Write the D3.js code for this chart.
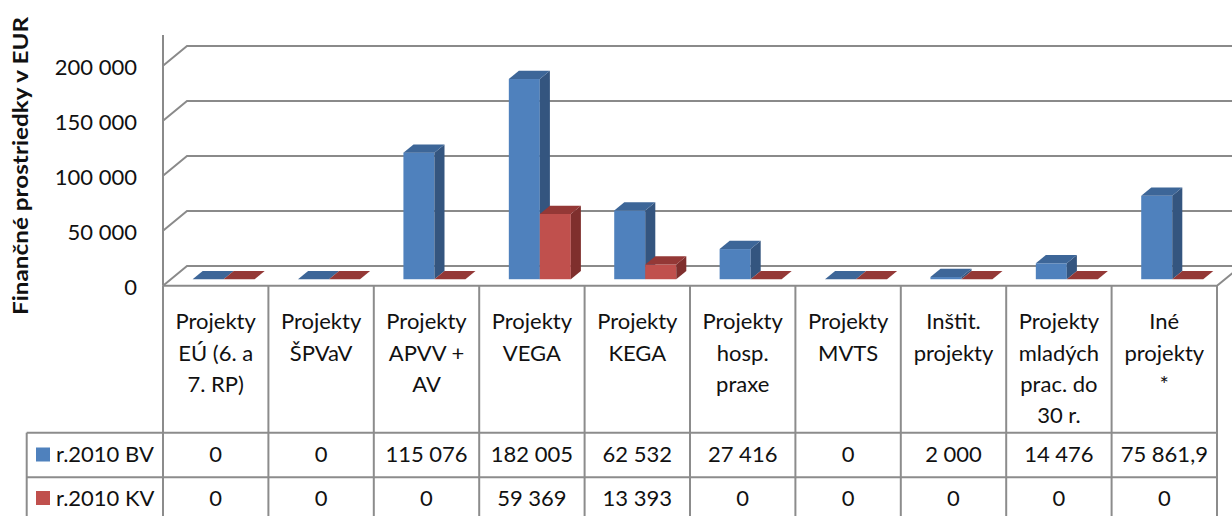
<!DOCTYPE html>
<html>
<head>
<meta charset="utf-8">
<script src="https://cdn.jsdelivr.net/npm/d3@7"></script>
<style>
  body { margin: 0; background: #fff; }
  svg { display: block; }
  text { font-family: Lato, "Open Sans", sans-serif; fill: #111; }
</style>
</head>
<body>
<div class="chart"></div>
<script>
var categories = ['EU', 'SPVaV', 'APVV', 'VEGA', 'KEGA', 'hosp', 'MVTS', 'Instit', 'mladych', 'Ine']
var categoryLines = [
  ['Projekty', 'EÚ (6. a', '7. RP)'],
  ['Projekty', 'ŠPVaV'],
  ['Projekty', 'APVV +', 'AV'],
  ['Projekty', 'VEGA'],
  ['Projekty', 'KEGA'],
  ['Projekty', 'hosp.', 'praxe'],
  ['Projekty', 'MVTS'],
  ['Inštit.', 'projekty'],
  ['Projekty', 'mladých', 'prac. do', '30 r.'],
  ['Iné', 'projekty', '*']
]
var seriesNames = ['r.2010 BV', 'r.2010 KV']
var valuesBV = [0, 0, 115076, 182005, 62532, 27416, 0, 2000, 14476, 75861.9]
var valuesKV = [0, 0, 0, 59369, 13393, 0, 0, 0, 0, 0]
var yTicks = [0, 50000, 100000, 150000, 200000]
var yTitle = 'Finančné prostriedky v EUR'

var width = 1232
var height = 516

// depth of the 3d floor
var DX = 24
var DY = 19.6

var colors = {
  blue: { front: '#4f81bd', side: '#34557f', top: '#3d6698' },
  red: { front: '#c0504d', side: '#7f2f2d', top: '#943836' }
}
var seriesColors = [colors.blue, colors.red]

var locale = d3.formatLocale({ decimal: ',', thousands: ' ', grouping: [3] })
var fmtInt = locale.format(',d')
var fmtDec = locale.format(',.1f')
function fmt(v) { return Number.isInteger(v) ? fmtInt(v) : fmtDec(v) }

var svg = d3.select('.chart')
  .append('svg')
  .attr('width', width)
  .attr('height', height)

var x = d3.scaleBand()
  .domain(categories)
  .range([163, 1217])

var xs = d3.scaleBand()
  .domain(seriesNames)
  .range([0, x.bandwidth()])
  .paddingOuter(0.7)

var y = d3.scaleLinear()
  .domain([0, 200000])
  .range([285.7, 65.7])

var gridColor = '#8a8a8a'

// back wall gridlines with the diagonal on the side wall
var grid = svg.append('g')
yTicks.forEach(function(v) {
  grid.append('path')
    .attr('d', 'M163,' + y(v) + 'L' + (163 + DX) + ',' + (y(v) - DY) + 'L' + width + ',' + (y(v) - DY))
    .attr('fill', 'none')
    .attr('stroke', gridColor)
    .attr('stroke-width', 2)
})

// vertical axis line
svg.append('line')
  .attr('x1', 163).attr('x2', 163)
  .attr('y1', 35).attr('y2', y(0))
  .attr('stroke', gridColor)
  .attr('stroke-width', 2)

// floor front edge + right side
svg.append('path')
  .attr('d', 'M163,' + y(0) + 'L1217,' + y(0) + 'L' + (1217 + DX) + ',' + (y(0) - DY))
  .attr('fill', 'none')
  .attr('stroke', gridColor)
  .attr('stroke-width', 2)

// bars
var F0 = 0.33
var F1 = 0.75
var bars = svg.append('g')
categories.forEach(function(c, i) {
  [valuesBV[i], valuesKV[i]].forEach(function(v, s) {
    var col = seriesColors[s]
    var bx = x(c) + xs(seriesNames[s]) + F0 * DX
    var w = xs.bandwidth()
    var yb = y(0) - F0 * DY
    var yt = y(v) - F0 * DY
    var dx = (F1 - F0) * DX
    var dy = (F1 - F0) * DY
    var g = bars.append('g')
    if (v > 0) {
      g.append('rect')
        .attr('x', bx).attr('y', yt)
        .attr('width', w).attr('height', yb - yt)
        .attr('fill', col.front)
      g.append('path')
        .attr('d', 'M' + (bx + w) + ',' + yt + 'L' + (bx + w + dx) + ',' + (yt - dy) +
          'L' + (bx + w + dx) + ',' + (yb - dy) + 'L' + (bx + w) + ',' + yb + 'Z')
        .attr('fill', col.side)
    }
    g.append('path')
      .attr('d', 'M' + bx + ',' + yt + 'L' + (bx + w) + ',' + yt +
        'L' + (bx + w + dx) + ',' + (yt - dy) + 'L' + (bx + dx) + ',' + (yt - dy) + 'Z')
      .attr('fill', col.top)
  })
})

// y axis labels
var yAxis = d3.axisLeft(y)
  .tickValues(yTicks)
  .tickSize(0)
  .tickPadding(26)
  .tickFormat(fmt)

svg.append('g')
  .attr('transform', 'translate(163,1.5)')
  .call(yAxis)
  .call(function(g) { g.select('.domain').remove() })
  .selectAll('text')
  .style('font-size', '22px')
  .style('font-family', 'Lato')
  .attr('fill', '#111')

// y title (stretched along its length like the source)
svg.append('text')
  .attr('transform', 'translate(28,166) rotate(-90)')
  .attr('text-anchor', 'middle')
  .attr('textLength', 298)
  .attr('lengthAdjust', 'spacingAndGlyphs')
  .style('font-size', '20px')
  .style('font-weight', 'bold')
  .text(yTitle)

// data table
var rowTop = 432.7
var rowMid = 477.3
var tableColor = '#8c8c8c'
var table = svg.append('g')

x.domain().concat(['end']).forEach(function(c) {
  var xx = c === 'end' ? x.range()[1] : x(c)
  table.append('line')
    .attr('x1', xx).attr('x2', xx)
    .attr('y1', y(0)).attr('y2', height)
    .attr('stroke', tableColor)
    .attr('stroke-width', 2)
})
;[rowTop, rowMid].forEach(function(yy) {
  table.append('line')
    .attr('x1', 26.7).attr('x2', 1217)
    .attr('y1', yy).attr('y2', yy)
    .attr('stroke', tableColor)
    .attr('stroke-width', 2)
})
table.append('line')
  .attr('x1', 26.7).attr('x2', 26.7)
  .attr('y1', rowTop).attr('y2', height)
  .attr('stroke', tableColor)
  .attr('stroke-width', 2)

// header labels
categories.forEach(function(c, i) {
  var t = table.append('text')
    .attr('x', x(c) + x.bandwidth() / 2)
    .attr('text-anchor', 'middle')
    .style('font-size', '22px')
  categoryLines[i].forEach(function(line, j) {
    t.append('tspan')
      .attr('x', x(c) + x.bandwidth() / 2)
      .attr('y', 321.7 + j * 31.3)
      .attr('dy', '0.35em')
      .text(line)
  })
})

// legend + values
var rowCenters = [454.5, 498]
var rows = [valuesBV, valuesKV]
rows.forEach(function(vals, s) {
  table.append('rect')
    .attr('x', 36).attr('y', rowCenters[s] - 7)
    .attr('width', 14).attr('height', 14)
    .attr('fill', seriesColors[s].front)
  table.append('text')
    .attr('x', 56).attr('y', rowCenters[s])
    .attr('dy', '0.35em')
    .style('font-size', '22px')
    .text(seriesNames[s])
  vals.forEach(function(v, i) {
    table.append('text')
      .attr('x', x(categories[i]) + x.bandwidth() / 2)
      .attr('y', rowCenters[s])
      .attr('dy', '0.35em')
      .attr('text-anchor', 'middle')
      .style('font-size', '22px')
      .text(fmt(v))
  })
})
</script>
</body>
</html>
